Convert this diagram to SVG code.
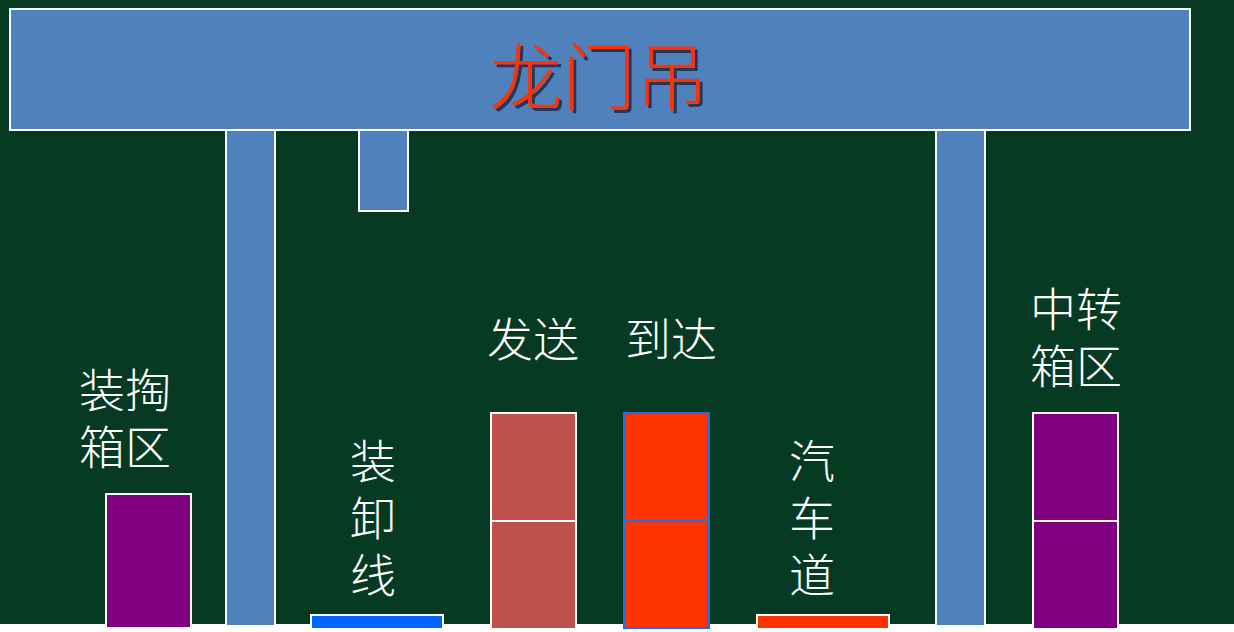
<svg xmlns="http://www.w3.org/2000/svg" width="1234" height="632" viewBox="0 0 1234 632">
<style>
.bg{fill:#063a22}
.steel{fill:#4f81bd;stroke:#ffffff;stroke-width:2}
.lbl{font-family:"Noto Sans CJK SC","Noto Sans CJK JP",sans-serif;font-size:46px;font-weight:300;fill:#ffffff;text-anchor:middle}
.title{font-family:"Noto Sans CJK SC","Noto Sans CJK JP",sans-serif;font-size:73px;font-weight:300;text-anchor:middle;fill:#ff3300}
.purple{fill:#800080;stroke:#ffffff;stroke-width:2}
.rose{fill:#c0504d;stroke:#ffffff;stroke-width:2}
.red{fill:#ff3300;stroke:#1f6fe8;stroke-width:2}
</style>
<defs>
<filter id="shadow" x="-10%" y="-10%" width="130%" height="130%">
<feDropShadow dx="3" dy="3" stdDeviation="0.6" flood-color="#26365a" flood-opacity="1"/>
</filter>
</defs>
<rect x="0" y="0" width="1234" height="632" fill="#ffffff"/>
<rect class="bg" x="0" y="0" width="1234" height="624"/>
<g id="gantry">
<rect class="steel" x="10" y="9" width="1180" height="121"/>
<rect class="steel" x="226" y="130" width="49" height="496"/>
<rect class="steel" x="936" y="130" width="49" height="496"/>
<rect class="steel" x="359" y="130" width="49" height="81"/>
<text class="title" x="599" y="104" filter="url(#shadow)">龙门吊</text>
</g>
<g id="stuffing-yard">
<rect class="purple" x="106" y="494" width="85" height="134"/>
<text class="lbl" x="125" y="407"><tspan x="125">装掏</tspan><tspan x="125" dy="57">箱区</tspan></text>
</g>
<g id="loading-track">
<rect x="311" y="615" width="132" height="14" fill="#0066ff" stroke="#ffffff" stroke-width="2"/>
<text class="lbl" x="373" y="478"><tspan x="373">装</tspan><tspan x="373" dy="57">卸</tspan><tspan x="373" dy="57">线</tspan></text>
</g>
<g id="dispatch">
<rect class="rose" x="491" y="413" width="85" height="108"/>
<rect class="rose" x="491" y="521" width="85" height="108"/>
<text class="lbl" x="533" y="356">发送</text>
</g>
<g id="arrival">
<rect class="red" x="624" y="413" width="85" height="108"/>
<rect class="red" x="624" y="521" width="85" height="107"/>
<text class="lbl" x="671" y="356">到达</text>
</g>
<g id="truck-lane">
<rect x="757" y="615" width="132" height="14" fill="#ff3300" stroke="#ffffff" stroke-width="2"/>
<text class="lbl" x="812" y="478"><tspan x="812">汽</tspan><tspan x="812" dy="57">车</tspan><tspan x="812" dy="57">道</tspan></text>
</g>
<g id="transfer-yard">
<rect class="purple" x="1033" y="413" width="85" height="108"/>
<rect class="purple" x="1033" y="521" width="85" height="108"/>
<text class="lbl" x="1076" y="326"><tspan x="1076">中转</tspan><tspan x="1076" dy="57">箱区</tspan></text>
</g>
<g id="connectors"></g>
</svg>
